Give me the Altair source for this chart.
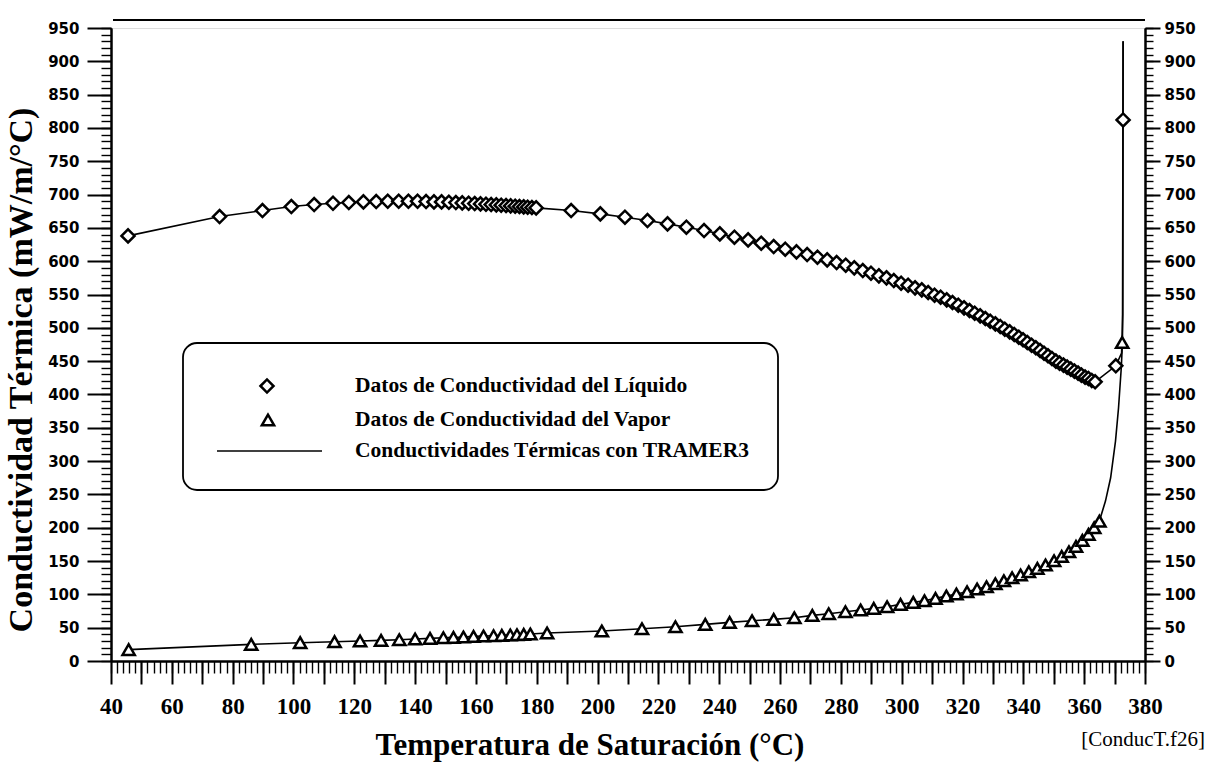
import altair as alt
import pandas as pd

# Saturated liquid thermal conductivity data (T in degC, k in mW/m/degC)
liq_T = [45.6, 75.7, 89.8, 99.3, 106.8, 113.0, 118.2, 123.0, 127.2, 131.0,
         134.6, 137.8, 140.8, 143.6, 146.2, 148.7, 151.1, 153.4, 155.5, 157.6,
         159.6, 161.5, 163.3, 165.0, 166.7, 168.3, 169.9, 171.4, 172.9, 174.3,
         175.7, 177.0, 178.4, 179.8,
         191.3, 200.9, 209.0, 216.4, 223.0, 229.2, 235.0, 240.2, 245.0, 249.5,
         253.8, 257.9, 261.7, 265.4, 268.9, 272.3, 275.5, 278.6, 281.6, 284.4,
         287.2, 289.9, 292.5, 295.0, 297.4, 299.8, 302.1, 304.4, 306.6, 308.7,
         310.8, 312.8, 314.8, 316.7, 318.6, 320.5, 322.3, 324.0, 325.8, 327.5,
         329.1, 330.8, 332.4, 333.9, 335.5, 337.0, 338.5, 339.9, 341.3, 342.7,
         344.1, 345.5, 346.8, 348.1, 349.4, 350.7, 351.9, 353.2, 354.4, 355.6,
         356.8, 358.0, 359.1, 360.3, 361.4, 362.5, 363.6,
         370.4, 372.8]
liq_k = [638, 667, 676, 682, 685, 687, 688, 689, 689.5, 690,
         690, 690, 690, 689.5, 689, 689, 688.5, 688, 687.5, 687,
         686.5, 686, 685.5, 685, 684.5, 684, 683.5, 683, 682.5, 682,
         681.5, 681, 680.5, 680,
         676, 671, 666, 661, 656, 651, 646, 641, 636, 632,
         627, 622, 618, 614, 610, 606, 602, 598, 594, 590,
         586, 582, 578, 575, 571, 567, 564, 560, 557, 553,
         549, 546, 542, 538, 534, 530, 526, 522, 518, 514,
         510, 506, 502, 498, 494, 490, 486, 482, 478, 474,
         470, 466, 462, 458, 454, 450, 447, 444, 441, 438,
         435, 432, 429, 426, 424, 421, 419,
         443, 812]

# Saturated vapour thermal conductivity data
vap_T = [45.8, 86.1, 102.2, 113.5, 121.9, 128.8, 134.8, 140.0, 144.9, 149.3,
         152.6, 155.9, 159.2, 162.5, 165.8, 168.5, 171.3, 173.5, 175.7, 177.9,
         183.4, 201.4, 214.6, 225.6, 235.4, 243.4, 250.8, 257.9, 264.7, 270.6,
         276.0, 281.5, 286.5, 290.8, 295.2, 299.6, 303.8, 307.5, 311.1, 314.7,
         318.0, 321.5, 324.8, 327.9, 330.8, 333.6, 336.3, 339.1, 341.8, 344.6,
         347.3, 350.1, 352.6, 355.0, 357.3, 359.4, 361.4, 363.3, 365.0,
         372.5]
vap_k = [17, 25, 27.5, 29, 30, 31, 32, 33, 34, 35,
         35.5, 36, 37, 37.5, 38, 38.5, 39, 39.5, 40, 40.5,
         42, 45, 48.5, 51.5, 55, 58, 60.5, 62.5, 65, 68.5,
         71, 74, 76.5, 79, 81.5, 85, 88, 90.5, 94, 97.5,
         100.5, 104, 108, 111.5, 116, 120.5, 125, 129, 134, 139,
         144, 150.5, 157, 164, 172, 181, 190, 200, 210,
         478]

# TRAMER3 curve: runs through the data and climbs at the critical point
liq_tail_T = [372.3, 372.7, 372.8]
liq_tail_k = [462, 520, 930]
vap_tail_T = [367.0, 368.7, 370.3, 371.3, 372.2, 372.6, 372.8]
vap_tail_k = [240, 275, 330, 380, 440, 480, 930]

legend_labels = ["Datos de Conductividad del Líquido",
                 "Datos de Conductividad del Vapor",
                 "Conductividades Térmicas con TRAMER3"]

x_major = list(range(40, 381, 10))
x_minor = list(range(40, 381, 2))
y_major = list(range(0, 951, 50))
y_minor = list(range(0, 951, 10))

liq = pd.DataFrame({"T": liq_T, "k": liq_k})
vap = pd.DataFrame({"T": vap_T, "k": vap_k})

curve_rows = []
for i, (t, k) in enumerate(zip(liq_T[:-1] + liq_tail_T, liq_k[:-1] + liq_tail_k)):
    curve_rows.append({"branch": "liq", "o": i, "T": t, "k": k})
for i, (t, k) in enumerate(zip(vap_T[:-1] + vap_tail_T, vap_k[:-1] + vap_tail_k)):
    curve_rows.append({"branch": "vap", "o": i, "T": t, "k": k})
curve = pd.DataFrame(curve_rows)

W, H = 1034, 633
xs = alt.Scale(domain=[40, 380], nice=False, zero=False)
ys = alt.Scale(domain=[0, 950], nice=False, zero=True)

SERIF = "Liberation Serif"
SANS = "DejaVu Sans"

line = alt.Chart(curve).mark_line(color="black", strokeWidth=1.6).encode(
    x=alt.X("T:Q", scale=xs, axis=None),
    y=alt.Y("k:Q", scale=ys, axis=None),
    detail="branch:N",
    order="o:Q",
)

liq_pts = alt.Chart(liq).mark_point(
    shape="diamond", size=170, filled=True, fill="white",
    stroke="black", strokeWidth=2.5, opacity=1,
).encode(x=alt.X("T:Q", scale=xs, axis=None), y=alt.Y("k:Q", scale=ys, axis=None))

vap_pts = alt.Chart(vap).mark_point(
    shape="triangle-up", size=150, filled=True, fill="white",
    stroke="black", strokeWidth=2.5, opacity=1,
).encode(x=alt.X("T:Q", scale=xs, axis=None), y=alt.Y("k:Q", scale=ys, axis=None))

axis_common = dict(domainColor="black", tickColor="black", grid=False,
                   labelColor="black")


def x_axis_layer(values, size, labels, width):
    ax = alt.Axis(values=values, tickSize=size, tickWidth=width, orient="bottom",
                  domainWidth=2, title=None, labels=labels,
                  labelFont=SERIF, labelFontSize=23, labelFontWeight="bold",
                  labelPadding=11, labelFlush=False, labelOverlap=False,
                  labelExpr="datum.value % 20 === 0 ? datum.label : ''",
                  **axis_common)
    return alt.Chart(liq).mark_point(opacity=0).encode(
        x=alt.X("T:Q", scale=xs, axis=ax))


def y_axis_layer(values, size, labels, width, orient):
    ax = alt.Axis(values=values, tickSize=size, tickWidth=width, orient=orient,
                  domainWidth=2, title=None, labels=labels,
                  labelFont=SANS, labelFontSize=15, labelFontWeight="bold",
                  labelPadding=8 if orient == "left" else 4,
                  labelFlush=False, labelOverlap=False,
                  **axis_common)
    return alt.Chart(liq).mark_point(opacity=0).encode(
        y=alt.Y("k:Q", scale=ys, axis=ax))


axes = [
    x_axis_layer(x_minor, 12, False, 1.4),
    x_axis_layer(x_major, 23, True, 2),
    y_axis_layer(y_minor, 10, False, 1.4, "left"),
    y_axis_layer(y_major, 24, True, 2, "left"),
    y_axis_layer(y_minor, 8, False, 1.4, "right"),
    y_axis_layer(y_major, 15, True, 2, "right"),
]

one = pd.DataFrame({"a": [0]})

top_border = alt.Chart(one).mark_rule(color="black", strokeWidth=2).encode(
    x=alt.value(2), x2=alt.value(W), y=alt.value(-8))

y_title = alt.Chart(one).mark_text(
    text="Conductividad Térmica (mW/m/°C)", angle=270, font=SERIF,
    fontSize=34, fontWeight="bold", align="center", baseline="middle",
    color="black",
).encode(x=alt.value(-89), y=alt.value(342))

x_title = alt.Chart(one).mark_text(
    text="Temperatura de Saturación (°C)", font=SERIF, fontSize=31,
    fontWeight="bold", align="center", baseline="middle", color="black",
).encode(x=alt.value(479), y=alt.value(718))

file_tag = alt.Chart(one).mark_text(
    text="[ConducT.f26]", font=SERIF, fontSize=21, align="right",
    baseline="middle", color="black",
).encode(x=alt.value(1094), y=alt.value(712))

# legend panel
legend_box = alt.Chart(one).mark_rect(
    fill="white", stroke="black", strokeWidth=1.8, cornerRadius=14,
).encode(x=alt.value(72), x2=alt.value(667), y=alt.value(315), y2=alt.value(462))

leg_diamond = alt.Chart(one).mark_point(
    shape="diamond", size=170, filled=True, fill="white", stroke="black",
    strokeWidth=2.5, opacity=1,
).encode(x=alt.value(156), y=alt.value(358))

leg_triangle = alt.Chart(one).mark_point(
    shape="triangle-up", size=150, filled=True, fill="white", stroke="black",
    strokeWidth=2.5, opacity=1,
).encode(x=alt.value(157), y=alt.value(392))

leg_line = alt.Chart(one).mark_rule(color="black", strokeWidth=1.6).encode(
    x=alt.value(106), x2=alt.value(211), y=alt.value(423))

leg_texts = [
    alt.Chart(one).mark_text(
        text=lbl, font=SERIF, fontSize=21.5, fontWeight="bold", align="left",
        baseline="middle", color="black",
    ).encode(x=alt.value(244), y=alt.value(yy))
    for lbl, yy in zip(legend_labels, [358, 392, 423])
]

chart = alt.layer(
    *axes, line, liq_pts, vap_pts, top_border, y_title, x_title, file_tag,
    legend_box, leg_diamond, leg_triangle, leg_line, *leg_texts,
).resolve_scale(x="independent", y="independent").properties(
    width=W, height=H,
    autosize=alt.AutoSizeParams(type="none"),
    padding={"left": 111, "top": 28, "right": 77, "bottom": 108},
).configure_view(stroke=None).configure(background="white")

chart.save("out.html", embed_options={"renderer": "svg", "actions": False})
